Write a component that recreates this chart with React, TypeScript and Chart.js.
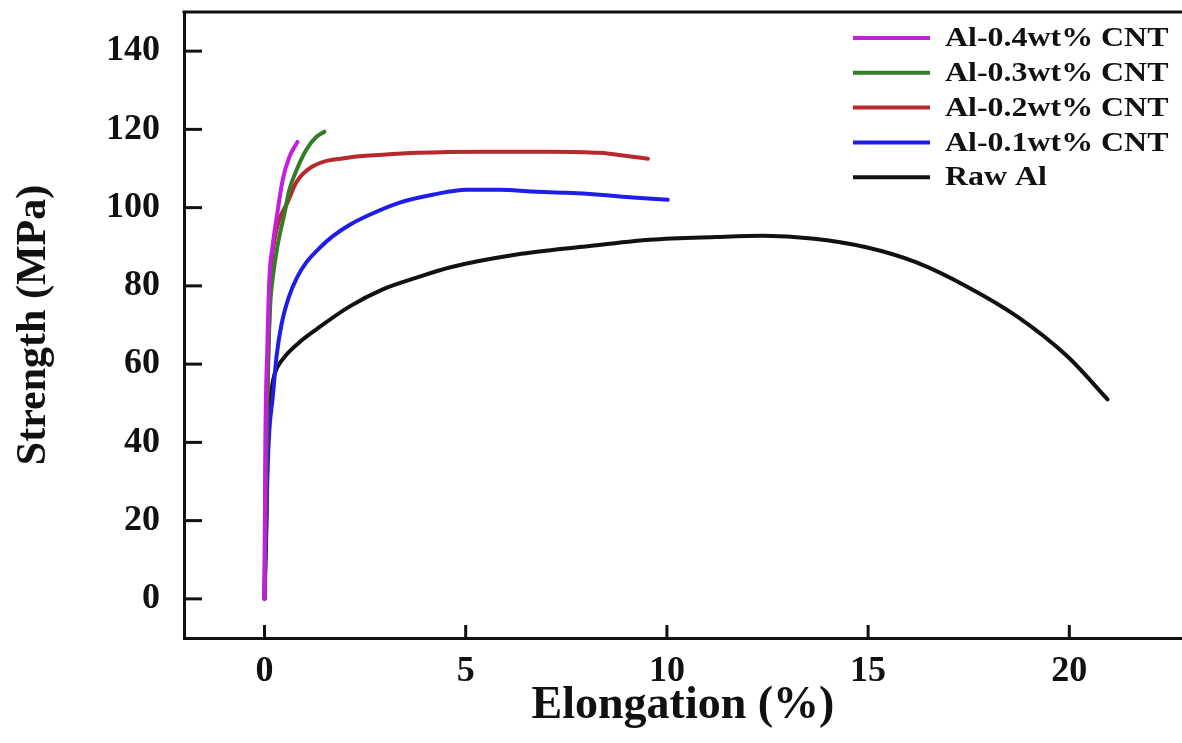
import React, { useEffect, useRef } from 'react';
import { Chart, registerables } from 'chart.js';

Chart.register(...registerables);

const seriesNames = ['Al-0.4wt% CNT', 'Al-0.3wt% CNT', 'Al-0.2wt% CNT', 'Al-0.1wt% CNT', 'Raw Al'];
const seriesColors = ['#c41ee0', '#347c28', '#b8282c', '#1e1ee8', '#111111'];

const cnt04X = [0, 0.02, 0.07, 0.12, 0.2, 0.32, 0.45, 0.62, 0.82];
const cnt04Y = [0, 38, 64, 81.6, 90, 98.7, 107, 113, 116.8];

const cnt03X = [0, 0.02, 0.05, 0.1, 0.15, 0.2, 0.32, 0.5, 0.62, 0.8, 1.04, 1.29, 1.49];
const cnt03Y = [0, 25.5, 46, 64, 76.5, 81.6, 90, 98.7, 104.6, 109.7, 114.8, 118.1, 119.4];

const cnt02X = [0, 0.05, 0.1, 0.15, 0.25, 0.37, 0.57, 0.8, 1.19, 2.11, 2.94, 3.78, 5.42, 7.09, 8.33, 9.15, 9.53];
const cnt02Y = [0, 38, 64, 81.6, 91.8, 97, 101.3, 106.6, 110.5, 112.8, 113.5, 114, 114.3, 114.3, 114, 113, 112.5];

const cnt01X = [0, 0.07, 0.12, 0.2, 0.3, 0.42, 0.6, 0.8, 1.04, 1.4, 1.7, 2.1, 2.53, 3.36, 4.18, 5.02, 5.85, 6.67, 7.51, 8.33, 9.15, 10.02];
const cnt01Y = [0, 30.6, 43, 51, 62, 70, 77, 82, 86, 90, 92.7, 95.5, 97.8, 101.3, 103.3, 104.6, 104.6, 104.1, 103.8, 103.3, 102.6, 102];

const rawAlX = [0, 0.05, 0.07, 0.12, 0.17, 0.25, 0.45, 0.87, 1.29, 2.11, 2.94, 3.78, 4.6, 6.27, 7.91, 9.58, 11.24, 12.4, 13.6, 14.98, 16.2, 17.46, 18.7, 19.95, 20.95];
const rawAlY = [0, 20, 36, 46, 53, 57.4, 61.2, 65.6, 68.9, 74.7, 79.1, 82.1, 84.7, 88, 90, 91.8, 92.5, 92.8, 92.1, 89.8, 86, 79.8, 72.2, 62, 51];

const seriesX = [cnt04X, cnt03X, cnt02X, cnt01X, rawAlX];
const seriesY = [cnt04Y, cnt03Y, cnt02Y, cnt01Y, rawAlY];

const xTicks = [0, 5, 10, 15, 20];
const yTicks = [0, 20, 40, 60, 80, 100, 120, 140];

const xTitle = 'Elongation (%)';
const yTitle = 'Strength (MPa)';

const serif = "'Liberation Serif', 'Times New Roman', serif";
const ink = '#111111';

const framePlugin = {
  id: 'frameTicks',
  afterDatasetsDraw(chart: any) {
    const { ctx, chartArea, scales } = chart;
    ctx.save();
    ctx.strokeStyle = ink;
    ctx.lineWidth = 3;
    ctx.beginPath();
    ctx.moveTo(chartArea.left - 1.5, chartArea.top);
    ctx.lineTo(chartArea.right, chartArea.top);
    ctx.stroke();
    xTicks.forEach((v) => {
      const px = scales.x.getPixelForValue(v);
      ctx.beginPath();
      ctx.moveTo(px, chartArea.bottom);
      ctx.lineTo(px, chartArea.bottom - 13);
      ctx.stroke();
    });
    yTicks.forEach((v) => {
      const py = scales.y.getPixelForValue(v);
      ctx.beginPath();
      ctx.moveTo(chartArea.left, py);
      ctx.lineTo(chartArea.left + 18, py);
      ctx.stroke();
    });
    ctx.restore();
  },
};

const legendPlugin = {
  id: 'insideLegend',
  afterDraw(chart: any) {
    const { ctx, chartArea } = chart;
    ctx.save();
    const x0 = chartArea.left + 669;
    const x1 = chartArea.left + 746;
    const tx = chartArea.left + 761;
    chart.data.datasets.forEach((ds: any, i: number) => {
      const y = chartArea.top + 26 + i * 34.8;
      ctx.strokeStyle = ds.borderColor;
      ctx.lineWidth = 4;
      ctx.beginPath();
      ctx.moveTo(x0, y);
      ctx.lineTo(x1, y);
      ctx.stroke();
      ctx.save();
      ctx.translate(tx, y);
      ctx.scale(1.14, 1);
      ctx.fillStyle = ink;
      ctx.font = `bold 28px ${serif}`;
      ctx.textAlign = 'left';
      ctx.textBaseline = 'middle';
      ctx.fillText(ds.label, 0, 1);
      ctx.restore();
    });
    ctx.restore();
  },
};

export default function App() {
  const canvasRef = useRef<HTMLCanvasElement | null>(null);

  useEffect(() => {
    const canvas = canvasRef.current;
    if (!canvas) return;
    const datasets = seriesNames.map((name, i) => ({
      label: name,
      data: seriesX[i].map((x, j) => ({ x, y: seriesY[i][j] })),
      borderColor: seriesColors[i],
      backgroundColor: seriesColors[i],
      borderWidth: 4,
      pointRadius: 0,
      showLine: true,
      cubicInterpolationMode: 'monotone' as const,
      borderCapStyle: 'round' as const,
    }));
    const chart = new Chart(canvas, {
      type: 'scatter',
      data: { datasets },
      options: {
        animation: false,
        responsive: false,
        layout: { padding: { top: 12, left: 0, right: 0, bottom: 0 } },
        plugins: {
          legend: { display: false },
          tooltip: { enabled: false },
        },
        scales: {
          x: {
            type: 'linear',
            min: -2,
            max: 22.8,
            afterBuildTicks: (s: any) => {
              s.ticks = xTicks.map((v) => ({ value: v }));
            },
            afterFit: (s: any) => {
              s.height = 105;
              s.paddingLeft = 0;
              s.paddingRight = 0;
            },
            grid: { display: true, drawOnChartArea: false, drawTicks: false },
            border: { display: true, color: ink, width: 3 },
            ticks: {
              color: ink,
              padding: 12,
              maxRotation: 0,
              font: { family: serif, size: 36, weight: 'bold' },
            },
            title: {
              display: true,
              text: xTitle,
              color: ink,
              padding: { top: 0, bottom: 9 },
              font: { family: serif, size: 46, weight: 'bold' },
            },
          },
          y: {
            type: 'linear',
            min: -10,
            max: 150,
            afterBuildTicks: (s: any) => {
              s.ticks = yTicks.map((v) => ({ value: v }));
            },
            afterFit: (s: any) => {
              s.width = 184;
              s.paddingTop = 0;
              s.paddingBottom = 0;
            },
            grid: { display: true, drawOnChartArea: false, drawTicks: false },
            border: { display: true, color: ink, width: 3 },
            ticks: {
              color: ink,
              padding: 24,
              font: { family: serif, size: 36, weight: 'bold' },
            },
            title: {
              display: true,
              text: yTitle,
              color: ink,
              padding: { top: 9, bottom: 0 },
              font: { family: serif, size: 42, weight: 'bold' },
            },
          },
        },
      },
      plugins: [framePlugin, legendPlugin],
    });
    return () => {
      chart.destroy();
    };
  }, []);

  return (
    <canvas
      ref={canvasRef}
      width={1182}
      height={743}
      style={{ position: 'fixed', left: 0, top: 0, width: 1182, height: 743, display: 'block', background: '#fff' }}
    />
  );
}
